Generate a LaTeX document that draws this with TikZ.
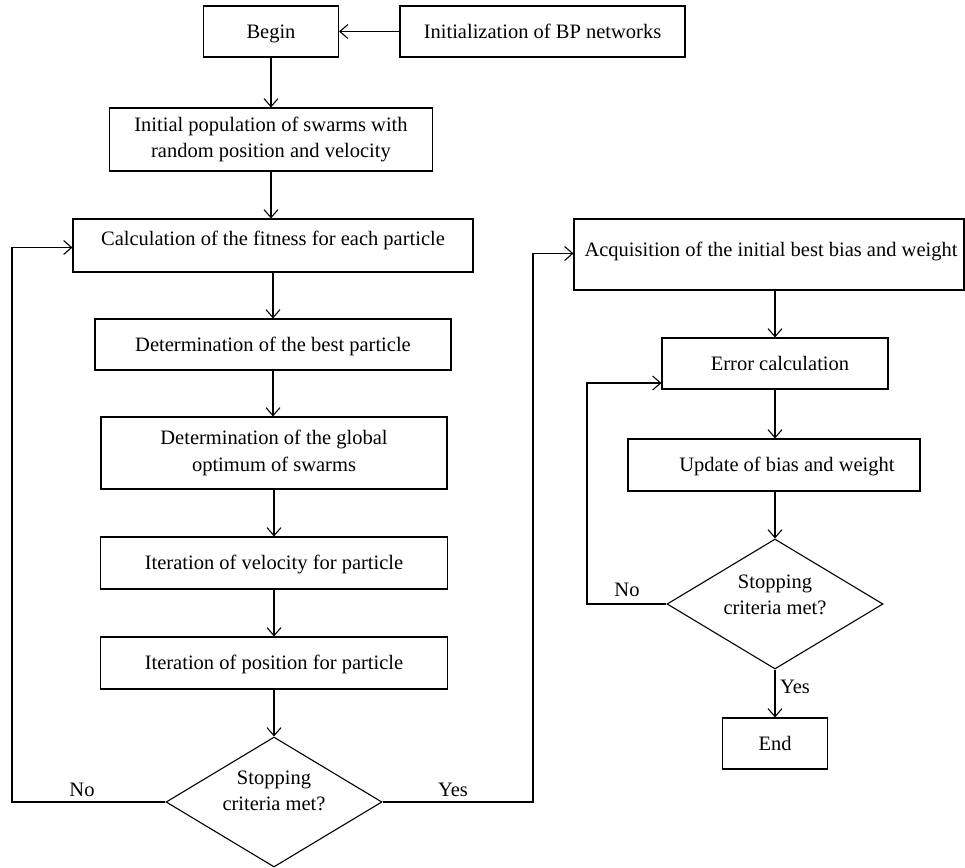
\documentclass[tikz,border=0pt]{standalone}
\usepackage{fontspec}
\setmainfont{Liberation Serif}
\usetikzlibrary{arrows.meta,shapes.geometric}
\begin{document}
\begin{tikzpicture}[x=1pt,y=-1pt,
  txt/.style={font=\fontsize{20.5}{26.5}\selectfont},
  box/.style={draw, line width=1.1pt, rectangle, inner sep=0pt, align=center, txt},
  one/.style={text height=16pt, text depth=3pt},
  mid/.style={text height=10pt, text depth=10pt},
  dia/.style={draw, line width=1.1pt, diamond, inner sep=0pt, shape aspect=1.66, minimum width=216pt, minimum height=130pt},
  lbl/.style={inner sep=0pt, align=center, txt},
  arr/.style={line width=1.1pt, -{Straight Barb[length=8pt,width=14pt,line width=1.1pt]}}
]
\useasboundingbox (0,0) rectangle (965,867);

% left column
\node[box, one, minimum width=135pt, minimum height=51pt] (begin) at (271,31.5) {Begin};
\node[box, one, minimum width=285pt, minimum height=51pt] (init) at (542.5,31.5) {Initialization of BP networks};
\node[box, minimum width=323pt, minimum height=63pt] (pop) at (271,139.5) {Initial population of swarms with\\random position and velocity};
\node[box, mid, minimum width=400pt, minimum height=53pt] (calc) at (273,245.5) {Calculation of the fitness for each particle};
\node[box, one, minimum width=356pt, minimum height=51pt] (best) at (273,344.5) {Determination of the best particle};
\node[box, minimum width=346pt, minimum height=72pt] (glob) at (274,453) {Determination of the global\\optimum of swarms};
\node[box, one, minimum width=347pt, minimum height=52pt] (vel) at (274,563) {Iteration of velocity for particle};
\node[box, one, minimum width=347pt, minimum height=52pt] (pos) at (274,663) {Iteration of position for particle};
\node[dia] (dia1) at (274,802) {};
\node[lbl] (dia1t) at (274,791) {Stopping\\criteria met?};

% right column
\node[box, minimum width=390pt, minimum height=71pt] (acq) at (769,254.5) {};
\node[lbl, one] (acqt) at (771,250) {Acquisition of the initial best bias and weight};
\node[box, one, minimum width=226pt, minimum height=51pt] (err) at (775,363.5) {\hspace*{10pt}Error calculation};
\node[box, minimum width=292pt, minimum height=52pt] (upd) at (774,465) {};
\node[lbl, one] (updt) at (787,465) {Update of bias and weight};
\node[dia] (dia2) at (775,604) {};
\node[lbl] (dia2t) at (775,595) {Stopping\\criteria met?};
\node[box, one, minimum width=105pt, minimum height=51pt] (end) at (775,743.5) {End};

% loop turning points
\coordinate (lloop) at (12,802);
\coordinate (yturn) at (533,802);
\coordinate (rloop) at (587,604);

% connectors
\draw[arr] (init.west) -- (begin.east);
\draw[arr] (begin.south) -- (begin.south |- pop.north);
\draw[arr] (pop.south) -- (pop.south |- calc.north);
\draw[arr] (calc.south) -- (calc.south |- best.north);
\draw[arr] (best.south) -- (best.south |- glob.north);
\draw[arr] (glob.south) -- (glob.south |- vel.north);
\draw[arr] (vel.south) -- (vel.south |- pos.north);
\draw[arr] (pos.south) -- (dia1.north);
\draw[arr] (dia1.west) -- (lloop) |- ([yshift=-2pt]calc.west);
\draw[arr] (dia1.east) -- (yturn) |- ([yshift=1pt]acq.west);
\draw[arr] (acq.south -| err.north) -- (err.north);
\draw[arr] (err.south) -- (err.south |- upd.north);
\draw[arr] (upd.south -| dia2.north) -- (dia2.north);
\draw[arr] (dia2.west) -- (rloop) |- ([yshift=-19.5pt]err.west);
\draw[arr] (dia2.south) -- (end.north);

% labels
\node[lbl] (no1) at (82,790) {No};
\node[lbl] (yes1) at (453,790) {Yes};
\node[lbl] (no2) at (627,590) {No};
\node[lbl] (yes2) at (795,687) {Yes};
\end{tikzpicture}
\end{document}
